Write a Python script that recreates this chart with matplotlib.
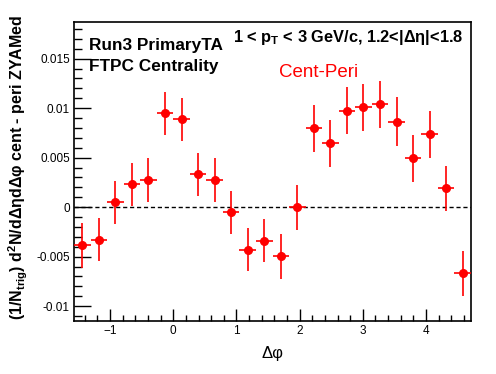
import matplotlib
matplotlib.use("Agg")
import matplotlib.pyplot as plt
from matplotlib.ticker import MultipleLocator, FixedLocator

plt.rcParams['font.family'] = ['Liberation Sans', 'DejaVu Sans']
plt.rcParams['mathtext.fontset'] = 'custom'
plt.rcParams['mathtext.rm'] = 'Liberation Sans'
plt.rcParams['mathtext.it'] = 'Liberation Sans'
plt.rcParams['mathtext.bf'] = 'Liberation Sans:bold'

# delta-phi bin centres (24 bins from -pi/2 to 3pi/2)
dphi = [-1.4399, -1.1781, -0.9163, -0.6545, -0.3927, -0.1309,
        0.1309, 0.3927, 0.6545, 0.9163, 1.1781, 1.4399,
        1.7017, 1.9635, 2.2253, 2.4871, 2.7489, 3.0107,
        3.2725, 3.5343, 3.7961, 4.0579, 4.3197, 4.5815]
half_bin = [0.1309] * 24

# cent - peri ZYAM subtracted yields
yld = [-0.00387, -0.00327, 0.00047, 0.00229, 0.00273, 0.00946,
       0.00886, 0.00330, 0.00273, -0.00054, -0.00428, -0.00337,
       -0.00498, 0.00000, 0.00795, 0.00643, 0.00976, 0.01007,
       0.01037, 0.00865, 0.00492, 0.00737, 0.00189, -0.00670]
yerr = [0.00226, 0.00222, 0.00221, 0.00221, 0.00222, 0.00221,
        0.00221, 0.00221, 0.00221, 0.00222, 0.00221, 0.00221,
        0.00226, 0.00226, 0.00236, 0.00236, 0.00240, 0.00240,
        0.00241, 0.00246, 0.00241, 0.00236, 0.00226, 0.00226]

xticks = [-1, 0, 1, 2, 3, 4]
yticks = [-0.01, -0.005, 0, 0.005, 0.01, 0.015]
ytick_labels = ['-0.01', '-0.005', '0', '0.005', '0.01', '0.015']

W, H = 496, 374
fig = plt.figure(figsize=(W / 100, H / 100), dpi=100)
ax = fig.add_axes([74 / W, 1 - 321 / H, (471 - 74) / W, (321 - 22) / H])

ax.set_xlim(-1.5708, 4.7124)
ax.set_ylim(-0.0115, 0.0187)

ax.axhline(0, color='black', lw=1, ls=(0, (3, 2)), zorder=1)
ax.errorbar(dphi, yld, xerr=half_bin, yerr=yerr, fmt='o', color='red',
            ms=5.5, elinewidth=1.2, capsize=0, zorder=3)

ax.xaxis.set_major_locator(FixedLocator(xticks))
ax.xaxis.set_minor_locator(MultipleLocator(0.2))
ax.set_yticks(yticks)
ax.set_yticklabels(ytick_labels)
ax.yaxis.set_minor_locator(MultipleLocator(0.001))
ax.tick_params(axis='both', which='both', direction='in', top=False, right=False,
               labelsize=8.5, width=1, color='black')
ax.tick_params(axis='y', which='major', length=12, pad=3)
ax.tick_params(axis='y', which='minor', length=6)
ax.tick_params(axis='x', which='major', length=9, pad=3)
ax.tick_params(axis='x', which='minor', length=4.5)
for sp in ax.spines.values():
    sp.set_linewidth(1.2)

def px(x, y):
    return x / W, 1 - y / H

fig.text(*px(89, 50), 'Run3 PrimaryTA', fontsize=12.4, fontweight='bold')
fig.text(*px(89, 71), 'FTPC Centrality', fontsize=12.4, fontweight='bold')
fig.text(*px(233, 42), r'1 < $\mathbf{p_{T}}$ < 3 GeV/c, 1.2<|Δη|<1.8',
         fontsize=11.8, fontweight='bold')
fig.text(*px(279, 77), 'Cent-Peri', fontsize=13.5, color='red')

fig.text(*px(272, 358), 'Δφ', fontsize=12, ha='center')
fig.text(*px(18, 167),
         r'(1/$\mathbf{N_{trig}}$) d$^{\mathbf{2}}$N/dΔηdΔφ cent - peri ZYAMed',
         fontsize=11.5, fontweight='bold', rotation=90, ha='center', va='center')

fig.savefig('out.png', dpi=100)
